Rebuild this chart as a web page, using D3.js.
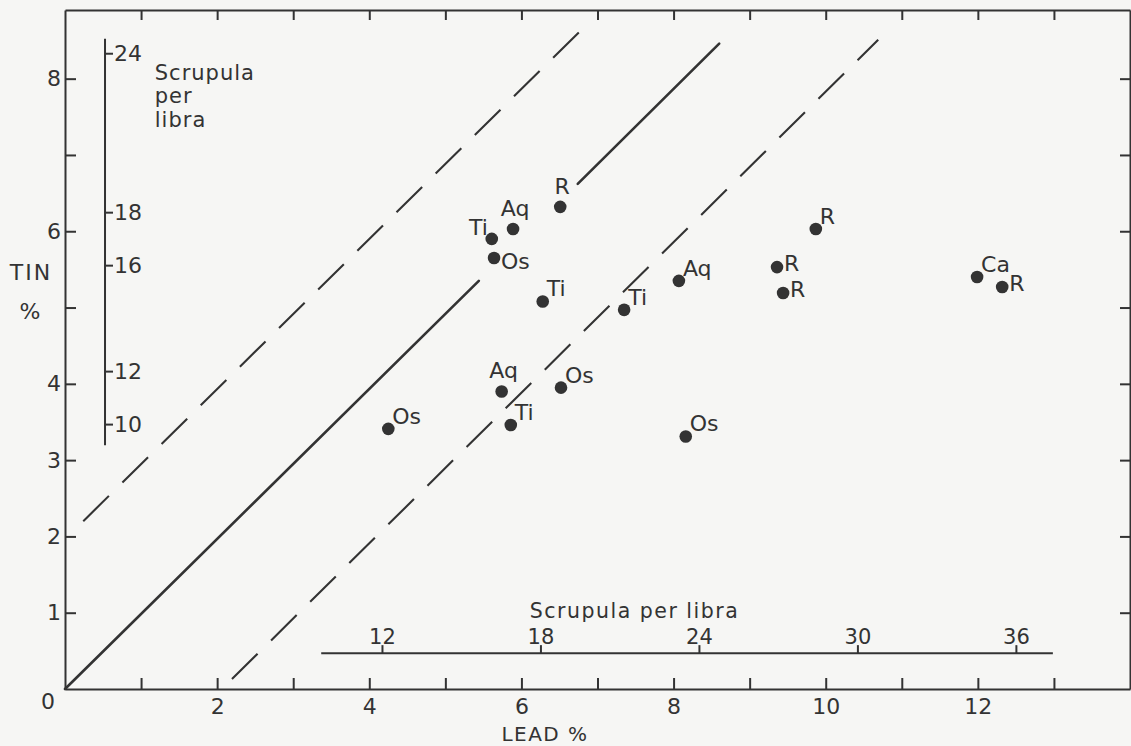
<!DOCTYPE html>
<html>
<head>
<meta charset="utf-8">
<script src="https://cdn.jsdelivr.net/npm/d3@7"></script>
<style>
  html, body { margin: 0; padding: 0; background: #f6f6f4; }
  svg { display: block; }
  text { font-family: "DejaVu Sans", sans-serif; fill: #333; }
</style>
</head>
<body>
<svg id="chart" width="1131" height="746"></svg>
<script>
// ---------------- data ----------------
const labels    = ["Os", "Aq", "Ti", "Os", "Os", "R", "Aq", "Ti", "Os", "Ti", "Ti", "Aq", "R", "R", "R", "Ca", "R"];
const leadPct   = [4.25, 5.74, 5.86, 6.52, 8.16, 6.51, 5.89, 5.61, 5.64, 6.28, 7.35, 8.07, 9.87, 9.36, 9.44, 11.99, 12.32];
const tinPct    = [3.41, 3.90, 3.46, 3.95, 3.31, 6.32, 6.03, 5.90, 5.65, 5.08, 4.97, 5.35, 6.03, 5.53, 5.19, 5.40, 5.27];
const labelSide = ["ne", "n", "ne", "ne", "ne", "n", "n", "nw", "se", "ne", "ne", "ne", "ne", "e", "e", "ne", "e"];

const xTicks = [1, 2, 3, 4, 5, 6, 7, 8, 9, 10, 11, 12, 13];
const xTickLabels = [2, 4, 6, 8, 10, 12];
const yTicks = [1, 2, 3, 4, 5, 6, 7, 8];
const yTickLabels = [1, 2, 3, 4, 6, 8];

// secondary scales: scrupula per libra (1 libra = 288 scrupula)
const scrupPerLibra = 288;
const scrupLeftTicks = [10, 12, 16, 18, 24];
const scrupLeftExtent = [9.2, 24.55];
const scrupBottomTicks = [12, 18, 24, 30, 36];
const scrupBottomExtent = [9.7, 37.4];

// reference lines (lead %, tin %)
const solidLines = [
  [[0, 0], [5.44, 5.35]],
  [[6.74, 6.62], [8.60, 8.46]]
];
const dashedLines = [
  [[0.24, 2.20], [6.90, 8.75]],
  [[2.195, 0.13], [10.69, 8.51]]
];

// ---------------- layout ----------------
const svg = d3.select("#chart");
const x = d3.scaleLinear().domain([0, 14]).range([65, 1130]);
const y = d3.scaleLinear().domain([0, 8.9]).range([689, 10]);
const ink = "#333";

// frame axes
const fmt = (list) => (d) => list.includes(d) ? String(d) : "";

const gB = svg.append("g").attr("transform", `translate(0,${y(0)})`)
  .call(d3.axisBottom(x).tickValues(xTicks).tickSizeInner(-11).tickSizeOuter(0).tickPadding(9).tickFormat(fmt(xTickLabels)));
const gL = svg.append("g").attr("transform", `translate(${x(0)},0)`)
  .call(d3.axisLeft(y).tickValues(yTicks).tickSizeInner(-11).tickSizeOuter(0).tickPadding(4).tickFormat(fmt(yTickLabels)));
const gT = svg.append("g").attr("transform", `translate(0,${y(8.9)})`)
  .call(d3.axisTop(x).tickValues(xTicks).tickSizeInner(-10).tickSizeOuter(0).tickFormat(() => ""));
const gR = svg.append("g").attr("transform", `translate(${x(14)},0)`)
  .call(d3.axisRight(y).tickValues(yTicks).tickSizeInner(-10).tickSizeOuter(0).tickFormat(() => ""));

[gB, gL, gT, gR].forEach(g => {
  g.selectAll("path.domain").attr("stroke", ink).attr("stroke-width", 2);
  g.selectAll(".tick line").attr("stroke", ink).attr("stroke-width", 2);
  g.selectAll(".tick text").style("font-size", "22px").attr("fill", ink);
});

// zero label at the corner
svg.append("text").attr("x", x(0) - 17).attr("y", y(0) + 20)
  .attr("text-anchor", "middle").style("font-size", "22px").text("0");

// axis titles
svg.append("text").attr("x", 31).attr("y", 280).attr("text-anchor", "middle")
  .style("font-size", "22px").style("letter-spacing", "2px").text("TIN");
svg.append("text").attr("x", 30).attr("y", 319).attr("text-anchor", "middle")
  .style("font-size", "22px").text("%");
svg.append("text").attr("x", 545).attr("y", 741).attr("text-anchor", "middle")
  .style("font-size", "20px").style("letter-spacing", "1.5px").text("LEAD %");

// ---------------- secondary scales ----------------
const sY = d3.scaleLinear().domain(y.domain().map(v => v * scrupPerLibra / 100)).range(y.range());
const sX = d3.scaleLinear().domain(x.domain().map(v => v * scrupPerLibra / 100)).range(x.range());

const leftScaleX = x(0.526);
const gSL = svg.append("g").attr("transform", `translate(${leftScaleX},0)`)
  .call(d3.axisRight(sY).tickValues(scrupLeftTicks).tickSizeInner(8).tickSizeOuter(0).tickPadding(1));
gSL.select("path.domain").remove();
gSL.append("line").attr("x1", 0).attr("x2", 0)
  .attr("y1", sY(scrupLeftExtent[0])).attr("y2", sY(scrupLeftExtent[1]))
  .attr("stroke", ink).attr("stroke-width", 2);
gSL.selectAll(".tick line").attr("stroke", ink).attr("stroke-width", 2);
gSL.selectAll(".tick text").style("font-size", "22px").attr("fill", ink);

const vLabel = svg.append("text").style("font-size", "21px").style("letter-spacing", "1px");
[["Scrupula", 80], ["per", 103], ["libra", 127]].forEach(([t, yy]) => {
  vLabel.append("tspan").attr("x", x(1.18)).attr("y", yy).text(t);
});

const bottomScaleY = y(0.47);
const gSB = svg.append("g").attr("transform", `translate(0,${bottomScaleY})`)
  .call(d3.axisTop(sX).tickValues(scrupBottomTicks).tickSizeInner(8).tickSizeOuter(0).tickPadding(1));
gSB.select("path.domain").remove();
gSB.append("line").attr("y1", 0).attr("y2", 0)
  .attr("x1", sX(scrupBottomExtent[0])).attr("x2", sX(scrupBottomExtent[1]))
  .attr("stroke", ink).attr("stroke-width", 2);
gSB.selectAll(".tick line").attr("stroke", ink).attr("stroke-width", 2);
gSB.selectAll(".tick text").style("font-size", "21px").attr("fill", ink);

svg.append("text").attr("x", x(6.11)).attr("y", bottomScaleY - 35)
  .style("font-size", "20.5px").style("letter-spacing", "1.5px").text("Scrupula per libra");

// ---------------- reference lines ----------------
const lineGen = d3.line().x(d => x(d[0])).y(d => y(d[1]));
svg.append("g").selectAll("path").data(solidLines).join("path")
  .attr("d", lineGen).attr("fill", "none").attr("stroke", ink)
  .attr("stroke-width", 2.6).attr("stroke-linecap", "round");
svg.append("g").selectAll("path").data(dashedLines).join("path")
  .attr("d", lineGen).attr("fill", "none").attr("stroke", ink)
  .attr("stroke-width", 2.1).attr("stroke-dasharray", "36,19");

// ---------------- points ----------------
const pts = labels.map((l, i) => ({ label: l, lead: leadPct[i], tin: tinPct[i], side: labelSide[i] }));
svg.append("g").selectAll("circle").data(pts).join("circle")
  .attr("cx", d => x(d.lead)).attr("cy", d => y(d.tin)).attr("r", 6.3).attr("fill", ink);

const place = {
  ne: { anchor: "start",  dx: 4,  dy: -5 },
  e:  { anchor: "start",  dx: 7,  dy: 4 },
  se: { anchor: "start",  dx: 7,  dy: 11 },
  n:  { anchor: "middle", dx: 2,  dy: -13 },
  nw: { anchor: "end",    dx: -4, dy: -4 }
};
svg.append("g").selectAll("text").data(pts).join("text")
  .attr("x", d => x(d.lead) + place[d.side].dx)
  .attr("y", d => y(d.tin) + place[d.side].dy)
  .attr("text-anchor", d => place[d.side].anchor)
  .style("font-size", "22px")
  .text(d => d.label);
</script>
</body>
</html>
